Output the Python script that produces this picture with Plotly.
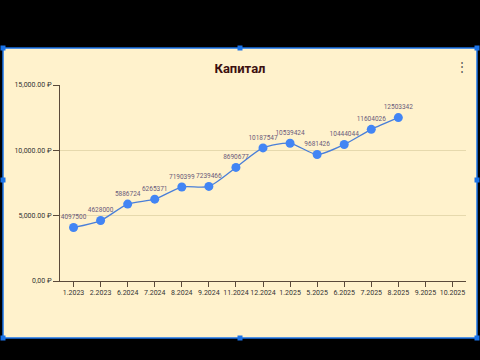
import plotly.graph_objects as go

categories = ["1.2023", "2.2023", "6.2024", "7.2024", "8.2024", "9.2024", "11.2024",
              "12.2024", "1.2025", "5.2025", "6.2025", "7.2025", "8.2025", "9.2025", "10.2025"]
values = [4097500, 4628000, 5886724, 6265371, 7190399, 7239466, 8690677,
          10187547, 10539424, 9681426, 10444044, 11604026, 12503342]
y_tickvals = [0, 5000000, 10000000, 15000000]
y_ticktext = ["0,00 ₽", "5,000.00 ₽", "10,000.00 ₽", "15,000.00 ₽"]

W, H = 480, 360
L, R, T, B = 60, 14, 85, 79
PW, PH = W - L - R, H - T - B

def px(x):
    return (x - L) / PW

def py(y):
    return (H - B - y) / PH

CREAM = "#FFF2CC"
BLUE = "#1A73E8"

fig = go.Figure()
fig.add_trace(go.Scatter(
    x=categories[:len(values)], y=values,
    mode="lines+markers+text",
    text=[str(v) for v in values],
    textposition="top center",
    textfont=dict(size=6.5, color="#6a5a7a", family="Roboto"),
    line=dict(color="#4a7fd8", width=1.3, shape="spline", smoothing=0.7),
    marker=dict(color="#4285F4", size=9),
    cliponaxis=False,
    showlegend=False,
))
fig.add_trace(go.Scatter(x=categories, y=[None] * len(categories), mode="markers",
                         showlegend=False, hoverinfo="skip"))

shapes = [
    dict(type="rect", xref="paper", yref="paper", x0=px(3), x1=px(477), y0=py(338), y1=py(48),
         fillcolor=CREAM, line=dict(color=BLUE, width=1.5), layer="below"),
]
for hx, hy in [(3, 48), (240, 48), (477, 48), (3, 180), (477, 180), (3, 338), (240, 338), (477, 338)]:
    shapes.append(dict(type="rect", xref="paper", yref="paper",
                       x0=px(hx - 2.5), x1=px(hx + 2.5), y0=py(hy + 2.5), y1=py(hy - 2.5),
                       fillcolor=BLUE, line=dict(width=0), layer="above"))

fig.update_layout(
    width=W, height=H,
    margin=dict(l=L, r=R, t=T, b=B),
    paper_bgcolor="black",
    plot_bgcolor=CREAM,
    shapes=shapes,
    title=dict(text="<b>Капитал</b>", x=0.5, xanchor="center", y=1 - 68 / H, yanchor="middle",
               yref="container", font=dict(size=13, color="#3d1010", family="Roboto")),
    font=dict(family="Roboto"),
    xaxis=dict(
        type="category", categoryorder="array", categoryarray=categories,
        range=[-0.5, len(categories) - 0.5],
        showgrid=False, showline=True, linecolor="#5a4a3a", linewidth=1,
        ticks="outside", ticklen=5, tickcolor="#5a4a3a", tickangle=0,
        tickfont=dict(size=7, color="#333333"),
        zeroline=False, fixedrange=True,
    ),
    yaxis=dict(
        range=[0, 15000000], tickvals=y_tickvals, ticktext=y_ticktext,
        showgrid=True, gridcolor="#e6d9ad", gridwidth=1,
        showline=True, linecolor="#5a4a3a", linewidth=1,
        ticks="outside", ticklen=6, tickcolor="#5a4a3a",
        tickfont=dict(size=7, color="#333333"),
        zeroline=False,
    ),
    annotations=[dict(text="⋮", xref="paper", yref="paper", x=px(470), y=py(58),
                      showarrow=False, font=dict(size=12, color="#555555"))],
)

fig.write_html("out.html", config={"responsive": False, "displayModeBar": False},
               post_script="document.body.style.margin='0';document.body.style.overflow='hidden';")
